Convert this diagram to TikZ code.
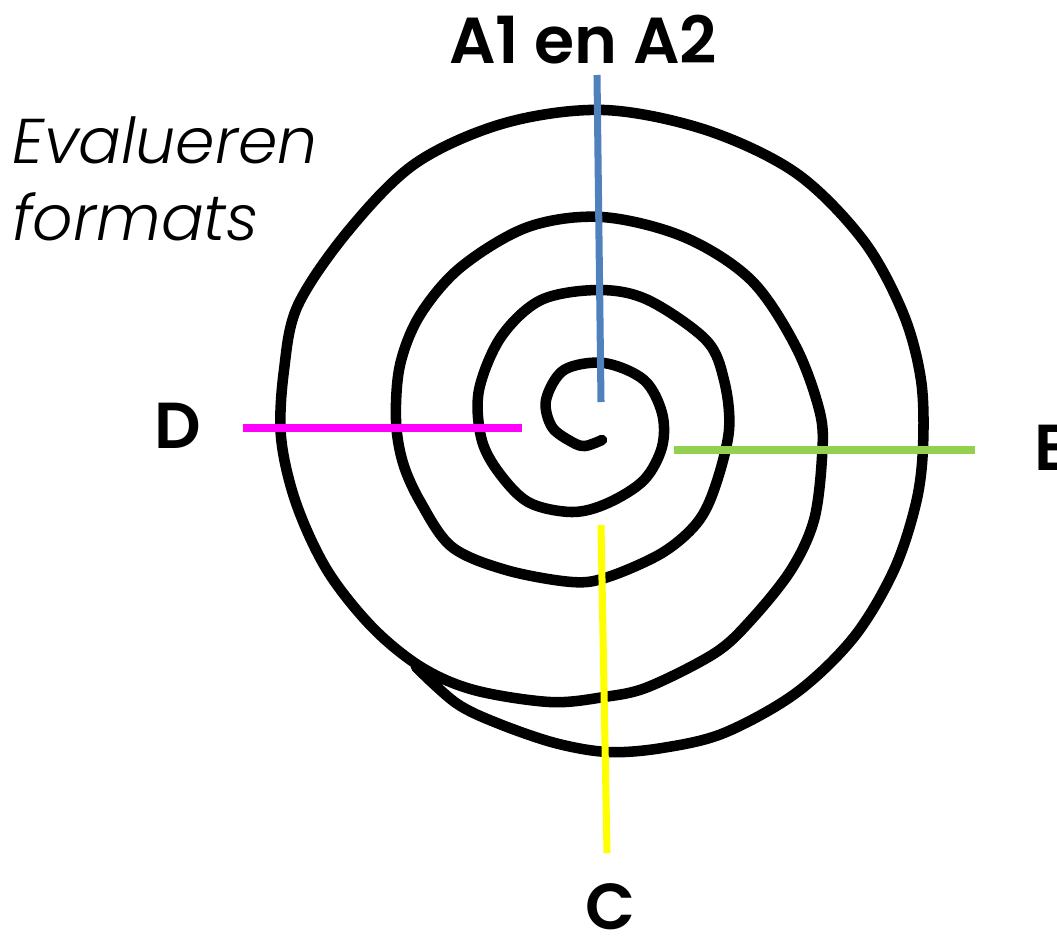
\documentclass[tikz,border=0pt]{standalone}
\usepackage{fontspec}
\setmainfont{Poppins}[BoldFont={Poppins SemiBold},ItalicFont={Poppins Light Italic}]
\usetikzlibrary{positioning}

\definecolor{linkblue}{HTML}{4F81BD}
\definecolor{linkpink}{HTML}{FF00FF}
\definecolor{linkgreen}{HTML}{92D050}
\definecolor{linkyellow}{HTML}{FFFF00}

\tikzset{
    phase/.style={font=\bfseries\fontsize{37}{37}\selectfont, inner sep=0pt},
    note/.style={font=\itshape\fontsize{36}{36}\selectfont, inner sep=0pt, anchor=base west},
    spoke/.style={line width = 4pt}
}

\begin{document}
\begin{tikzpicture}[x=0.02cm, y=-0.02cm]
\useasboundingbox (0,0) rectangle (1057,937);
    % draw spiral
    \draw[line width = 6pt, line cap=round, line join=round] plot[smooth, tension=0.55] coordinates {
        (602,440) (585,446) (572,442) (552,427) (546,400) (564,370) (604,363)
        (644,380) (662,413) (662,447) (644,480) (608,503) (572,512) (528,502)
        (497,470) (481,437) (479,390) (501,337) (541,300) (599,290) (648,300)
        (706,340) (724,380) (729,430) (715,487) (697,523) (662,553) (608,577)
        (572,582) (506,570) (452,547) (421,503) (403,463) (396,420) (400,365)
        (420,315) (461,267) (528,227) (602,217) (684,237) (751,280) (796,347)
        (820,413) (822,457) (814,520) (791,570) (751,620) (715,653) (648,687)
        (604,697) (550,702) (474,690) (421,667) (372,627) (327,570) (296,503)
        (281,437) (284,370) (298,305) (349,230) (416,163) (505,123) (604,110)
        (706,130) (796,173) (863,240) (903,313) (921,380) (923,447) (916,503)
        (894,570) (854,637) (796,693) (724,733) (662,748) (608,752) (555,743)
        (497,723) (456,703) (416,667)};
    % labels
    \node[phase] (a) at (583,40) {A1 en A2};
    \node[phase] (d) at (178,426) {D};
    \node[phase, anchor=west] (b) at (1034,448) {B};
    \node[phase] (c) at (610,907) {C};
    \node[note] (ev) at (12,163) {Evalueren};
    \node[note] (fo) at (12,240) {formats};
    % spoke ends
    \coordinate (a1) at (597,75);
    \coordinate (a2) at (601,402);
    \coordinate (d1) at (243,428);
    \coordinate (d2) at (522,428);
    \coordinate (b1) at (674,450);
    \coordinate (b2) at (975,450);
    \coordinate (c1) at (601,525);
    \coordinate (c2) at (607,853);
    % draw spokes
    \draw[spoke, linkblue] (a1) -- (a2);
    \draw[spoke, linkpink] (d1) -- (d2);
    \draw[spoke, linkgreen] (b1) -- (b2);
    \draw[spoke, linkyellow] (c1) -- (c2);
\end{tikzpicture}
\end{document}
